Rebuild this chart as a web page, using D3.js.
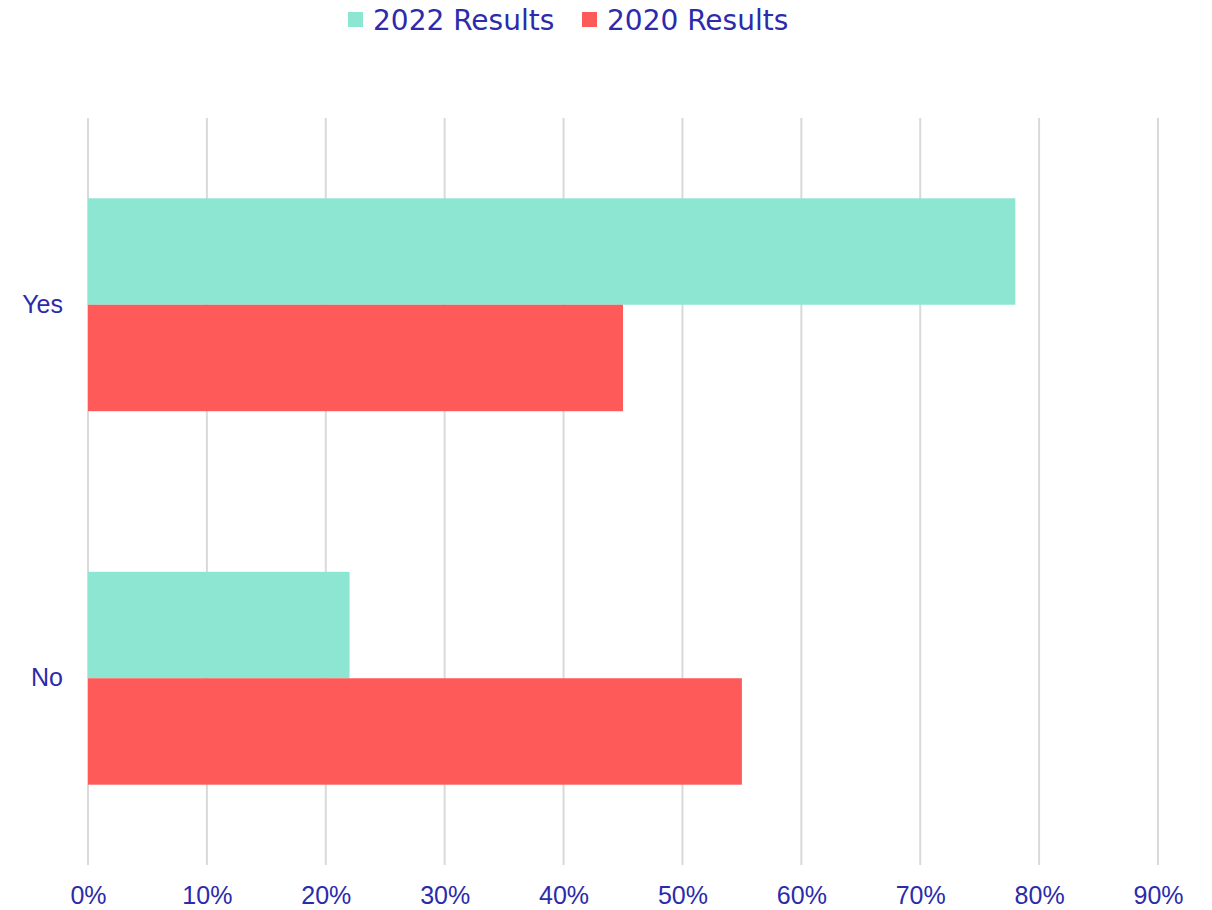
<!DOCTYPE html>
<html>
<head>
<meta charset="utf-8">
<script src="https://cdn.jsdelivr.net/npm/d3@7"></script>
<style>
  html, body { margin: 0; padding: 0; background: #ffffff; }
  svg { display: block; }
</style>
</head>
<body>
<svg id="chart" width="1212" height="910"></svg>
<script>
// Survey answers, share of respondents per answer
const categories = ["Yes", "No"];
const seriesNames = ["2022 Results", "2020 Results"];
const results2022 = [0.78, 0.22];
const results2020 = [0.45, 0.55];
const xTicks = [0, 0.1, 0.2, 0.3, 0.4, 0.5, 0.6, 0.7, 0.8, 0.9];
const seriesColors = ["#8ce6d2", "#ff5a5a"];

const textColor = "#2b2bab";
const svg = d3.select("#chart");

const plot = { left: 88, right: 1158, top: 118, bottom: 865 };

const x = d3.scaleLinear().domain([0, 0.9]).range([plot.left, plot.right]);
const y = d3.scaleBand().domain(categories).range([plot.top, plot.bottom])
  .paddingInner(0.43).paddingOuter(0.215);
const ySub = d3.scaleBand().domain(seriesNames).range([0, y.bandwidth()]);

const rows = categories.map((c, i) => ({
  category: c,
  values: [results2022[i], results2020[i]]
}));

// vertical gridlines
svg.append("g")
  .selectAll("line")
  .data(xTicks)
  .join("line")
  .attr("x1", d => x(d)).attr("x2", d => x(d))
  .attr("y1", plot.top).attr("y2", plot.bottom)
  .attr("stroke", "#d9d9d9")
  .attr("stroke-width", 2);

// bars
svg.append("g")
  .selectAll("g")
  .data(rows)
  .join("g")
  .attr("transform", d => `translate(0,${y(d.category)})`)
  .selectAll("rect")
  .data(d => d.values.map((v, j) => ({ name: seriesNames[j], value: v, color: seriesColors[j] })))
  .join("rect")
  .attr("x", x(0))
  .attr("y", d => ySub(d.name))
  .attr("width", d => x(d.value) - x(0))
  .attr("height", ySub.bandwidth())
  .attr("fill", d => d.color);

// x axis labels
const xAxis = d3.axisBottom(x).tickValues(xTicks).tickFormat(d3.format(".0%")).tickSize(0).tickPadding(0);
const gx = svg.append("g")
  .attr("transform", `translate(0,${plot.bottom + 21})`)
  .call(xAxis);
gx.select(".domain").remove();
gx.selectAll("text")
  .attr("fill", textColor)
  .attr("font-family", "Liberation Sans, Arial, sans-serif")
  .attr("font-size", 25)
  .attr("dy", "0.71em");

// y axis labels
const yAxis = d3.axisLeft(y).tickSize(0).tickPadding(25);
const gy = svg.append("g")
  .attr("transform", `translate(${plot.left},0)`)
  .call(yAxis);
gy.select(".domain").remove();
gy.selectAll("text")
  .attr("fill", textColor)
  .attr("font-family", "Liberation Sans, Arial, sans-serif")
  .attr("font-size", 25);

// legend
const legendItems = [
  { name: seriesNames[0], color: seriesColors[0], x: 348 },
  { name: seriesNames[1], color: seriesColors[1], x: 582 }
];
const legend = svg.append("g");
legend.selectAll("rect")
  .data(legendItems)
  .join("rect")
  .attr("x", d => d.x).attr("y", 12)
  .attr("width", 15).attr("height", 15)
  .attr("fill", d => d.color);
legend.selectAll("text")
  .data(legendItems)
  .join("text")
  .attr("x", d => d.x + 25).attr("y", 30)
  .attr("fill", textColor)
  .attr("font-family", "DejaVu Sans, sans-serif")
  .attr("font-size", 28)
  .text(d => d.name);
</script>
</body>
</html>
